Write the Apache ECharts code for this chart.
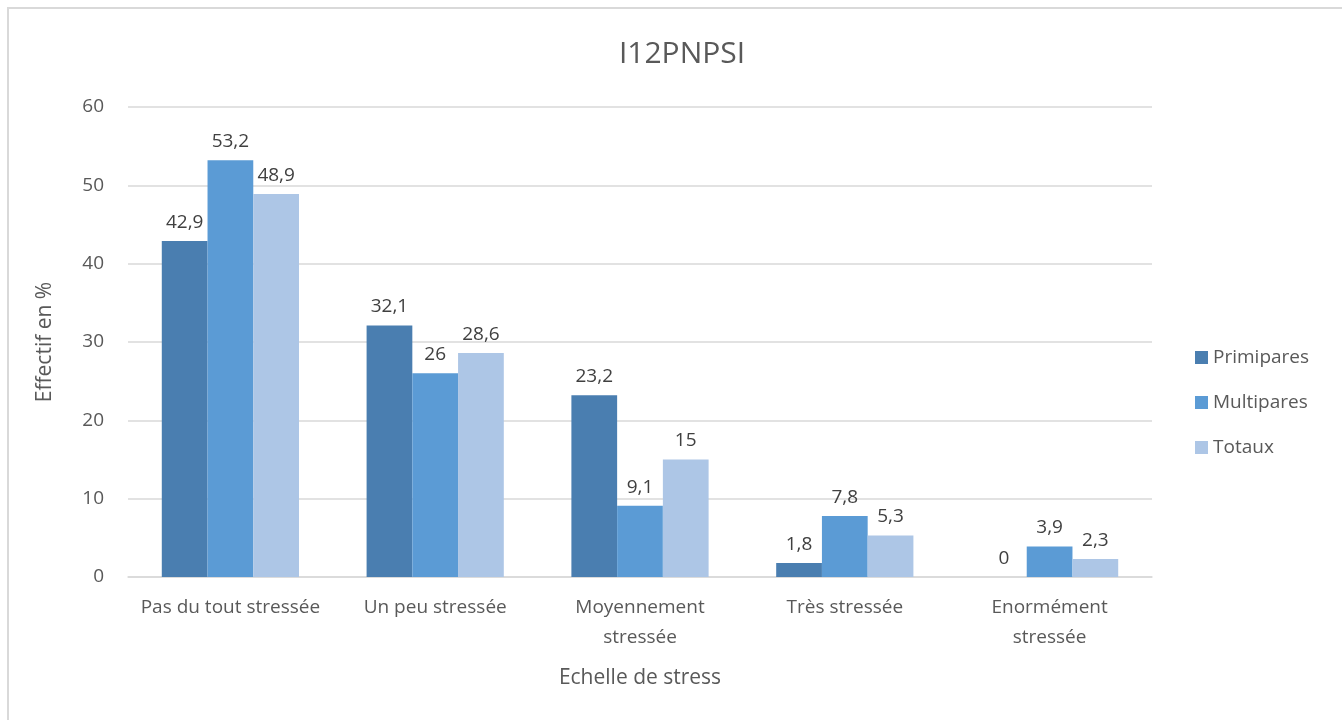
<!DOCTYPE html>
<html><head><meta charset="utf-8">
<script src="https://cdn.jsdelivr.net/npm/echarts@6/dist/echarts.min.js"></script>
<style>
html,body{margin:0;padding:0;background:#fff;}
#frame{position:absolute;left:7px;top:7px;width:1340px;height:720px;border:2px solid #d9d9d9;box-sizing:border-box;}
#c{position:absolute;left:0;top:0;width:1342px;height:720px;}
</style></head>
<body><div id="frame"></div><div id="c"></div>
<script>
const categories = ["Pas du tout stressée", "Un peu stressée", "Moyennement\nstressée", "Très stressée", "Enormément\nstressée"];
const primipares = [42.9, 32.1, 23.2, 1.8, 0];
const multipares = [53.2, 26, 9.1, 7.8, 3.9];
const totaux = [48.9, 28.6, 15, 5.3, 2.3];
const seriesNames = ["Primipares", "Multipares", "Totaux"];
const colors = ["#4a7eb0", "#5b9bd5", "#adc6e6"];

const font = "'Open Sans', 'Noto Sans', sans-serif";
const chart = echarts.init(document.getElementById('c'));
const lbl = {show:true, position:'top', distance:9, color:'#404040', fontSize:19, fontFamily:font,
  formatter: p => String(p.value).replace('.', ',')};
chart.setOption({
  animation:false,
  title:{text:'I12PNPSI', left:677, top:34, textAlign:'center',
    textStyle:{fontSize:30, fontWeight:'normal', color:'#595959', fontFamily:font}},
  legend:{orient:'vertical', left:1190, top:343, itemGap:26, itemWidth:13, itemHeight:13, itemTextGap:6,
    icon:'rect', textStyle:{fontSize:19, color:'#595959', fontFamily:font}, data:seriesNames},
  grid:{left:128, right:190, top:107, bottom:143},
  xAxis:{type:'category', data:categories, name:'Echelle de stress', nameLocation:'middle', nameGap:91,
    nameTextStyle:{fontSize:21, color:'#595959', fontFamily:font},
    axisLine:{lineStyle:{color:'#d9d9d9', width:1.5}}, axisTick:{show:false},
    axisLabel:{fontSize:19, color:'#595959', fontFamily:font, margin:16, lineHeight:30, interval:0}},
  yAxis:{type:'value', min:0, max:60, interval:10, name:'Effectif en %', nameLocation:'middle', nameGap:72,
    nameTextStyle:{fontSize:21, color:'#595959', fontFamily:font},
    axisLabel:{fontSize:19, color:'#595959', fontFamily:font, margin:24},
    splitLine:{lineStyle:{color:'#d9d9d9', width:1.5}}, axisLine:{show:false}, axisTick:{show:false}},
  series:[
    {name:seriesNames[0], type:'bar', data:primipares, itemStyle:{color:colors[0]}, barGap:'0%', barCategoryGap:'33%', label:lbl},
    {name:seriesNames[1], type:'bar', data:multipares, itemStyle:{color:colors[1]}, label:lbl},
    {name:seriesNames[2], type:'bar', data:totaux, itemStyle:{color:colors[2]}, label:lbl}
  ]
});
</script></body></html>
